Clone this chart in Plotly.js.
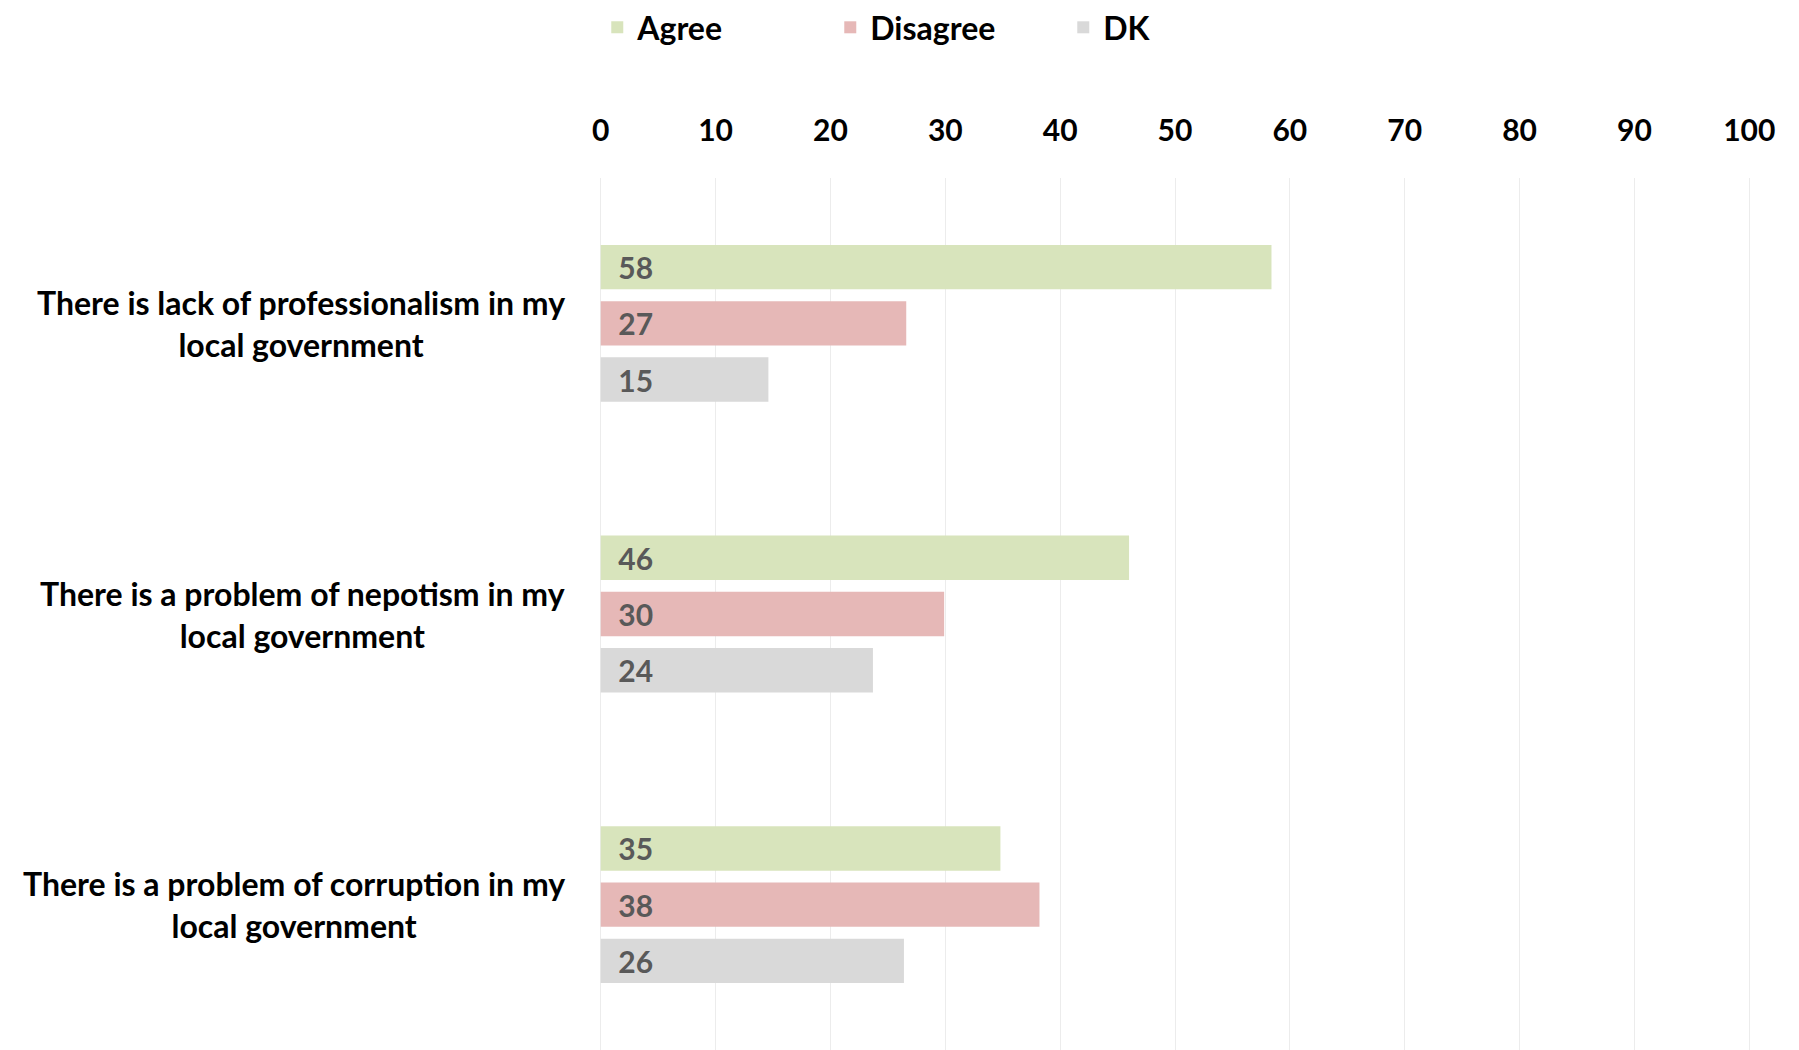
<!DOCTYPE html>
<html><head><meta charset="utf-8">
<script src="https://cdn.plot.ly/plotly-3.0.1.min.js"></script>
<style>html,body{margin:0;padding:0;background:#fff}#chart{width:1799px;height:1050px}</style>
</head><body><div id="chart"></div>
<script>
const categories = ["Professionalism", "Nepotism", "Corruption"];
const categoryLabels = [
  "There is lack of professionalism in my<br>local government",
  "There is a problem of nepotism in my<br>local government",
  "There is a problem of corruption in my<br>local government"
];
const seriesNames = ["Agree", "Disagree", "DK"];
const agree = [58.4, 46.0, 34.8];
const disagree = [26.6, 29.9, 38.2];
const dk = [14.6, 23.7, 26.4];
const xTickValues = [0, 10, 20, 30, 40, 50, 60, 70, 80, 90, 100];

const colors = ["#d8e4bc", "#e6b8b7", "#d9d9d9"];
const FONT = "Lato, 'Open Sans', sans-serif";
const seriesValues = [agree, disagree, dk];

const traces = seriesValues.map((vals, i) => ({
  type: "bar",
  orientation: "h",
  name: seriesNames[i],
  x: vals,
  y: categories,
  marker: {color: colors[i]},
  texttemplate: "\u00a0\u00a0%{x:.0f}",
  textposition: "inside",
  insidetextanchor: "start",
  constraintext: "none",
  textfont: {family: FONT, size: 30, color: "#595959", weight: "bold"},
  hoverinfo: "x+name"
}));

const annotations = categories.map((c, i) => ({
  xref: "paper", yref: "y", x: 0, y: c,
  xanchor: "right", yanchor: "middle", xshift: -32,
  text: categoryLabels[i], align: "center", showarrow: false,
  font: {family: FONT, size: 32, color: "#000", weight: "bold"}
}));

const layout = {
  width: 1799, height: 1050,
  margin: {l: 599, r: 48, t: 178, b: 0},
  paper_bgcolor: "#fff", plot_bgcolor: "#fff",
  barmode: "group", bargap: 0.42, bargroupgap: 0.21,
  font: {family: FONT, color: "#000"},
  xaxis: {
    side: "top", range: [-0.15, 100.15], tickvals: xTickValues,
    showgrid: true, gridcolor: "#ececec", gridwidth: 1,
    zeroline: true, zerolinecolor: "#ececec", zerolinewidth: 1,
    showline: false, ticks: "",
    ticklabelstandoff: 30,
    tickfont: {family: FONT, size: 30, color: "#000", weight: "bold"},
    fixedrange: true
  },
  yaxis: {
    type: "category", autorange: "reversed",
    showticklabels: false, showgrid: false, zeroline: false, showline: false,
    fixedrange: true
  },
  showlegend: true,
  legend: {
    orientation: "h", xref: "container", yref: "container",
    x: 0.332, xanchor: "left", y: 1, yanchor: "top",
    entrywidthmode: "pixels", entrywidth: 188,
    traceorder: "normal",
    font: {family: FONT, size: 32, color: "#000", weight: "bold"},
    bgcolor: "rgba(0,0,0,0)"
  },
  annotations: annotations
};

Plotly.newPlot("chart", traces, layout, {displayModeBar: false, staticPlot: true});
</script>
</body></html>
